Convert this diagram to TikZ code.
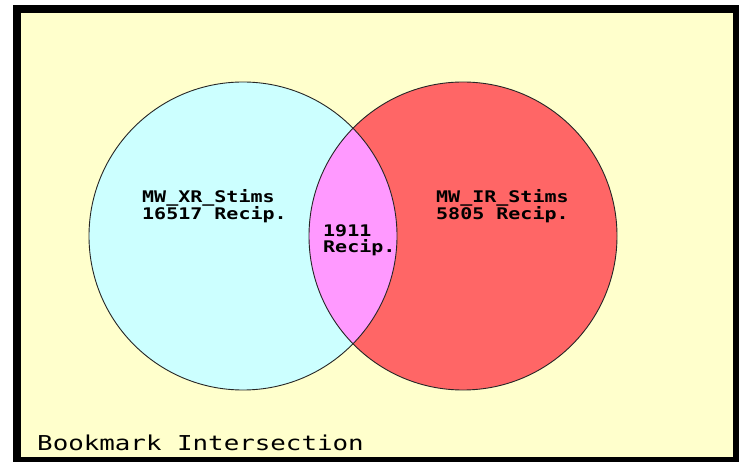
\documentclass[tikz,border=0pt]{standalone}
\usepackage{fontspec}
\newfontfamily\labelfont[FakeStretch=1.25]{DejaVu Sans Mono Bold}
\newfontfamily\titlefont[FakeStretch=1.26]{DejaVu Sans Mono}
\definecolor{panel}{RGB}{255,255,204}
\definecolor{xrfill}{RGB}{204,255,255}
\definecolor{irfill}{RGB}{255,102,102}
\definecolor{bothfill}{RGB}{255,153,255}
\tikzset{
  setline/.style={draw=black!85, line width=0.9pt},
  countlabel/.style={anchor=base west, inner sep=0pt, align=left,
    font={\labelfont\fontsize{16}{16.5}\selectfont}},
  titlelabel/.style={anchor=base west, inner sep=0pt,
    font={\titlefont\fontsize{20.5}{22}\selectfont}}
}
\begin{document}
\begin{tikzpicture}[x=1pt,y=-1pt]
	\useasboundingbox (0,0) rectangle (739,462);
	\fill[black] (13,5) rectangle (739,462);
	\fill[panel] (21,13) rectangle (733,457);

	\coordinate (xr) at (243,236);
	\coordinate (ir) at (463,236);

	\fill[xrfill] (xr) circle (154);
	\fill[irfill] (ir) circle (154);
	\begin{scope}
		\clip (xr) circle (154);
		\fill[bothfill] (ir) circle (154);
	\end{scope}
	\draw[setline] (xr) circle (154);
	\draw[setline] (ir) circle (154);

	% anchors sit on the last line of each label
	\node (xrlabel) at (142,220) [countlabel] {MW\_XR\_Stims\\16517 Recip.};
	\node (irlabel) at (436,220) [countlabel] {MW\_IR\_Stims\\5805 Recip.};
	\node (bothlabel) at (323,253) [countlabel] {1911\\Recip.};
	\node (title) at (37,450) [titlelabel] {Bookmark Intersection};
\end{tikzpicture}
\end{document}
